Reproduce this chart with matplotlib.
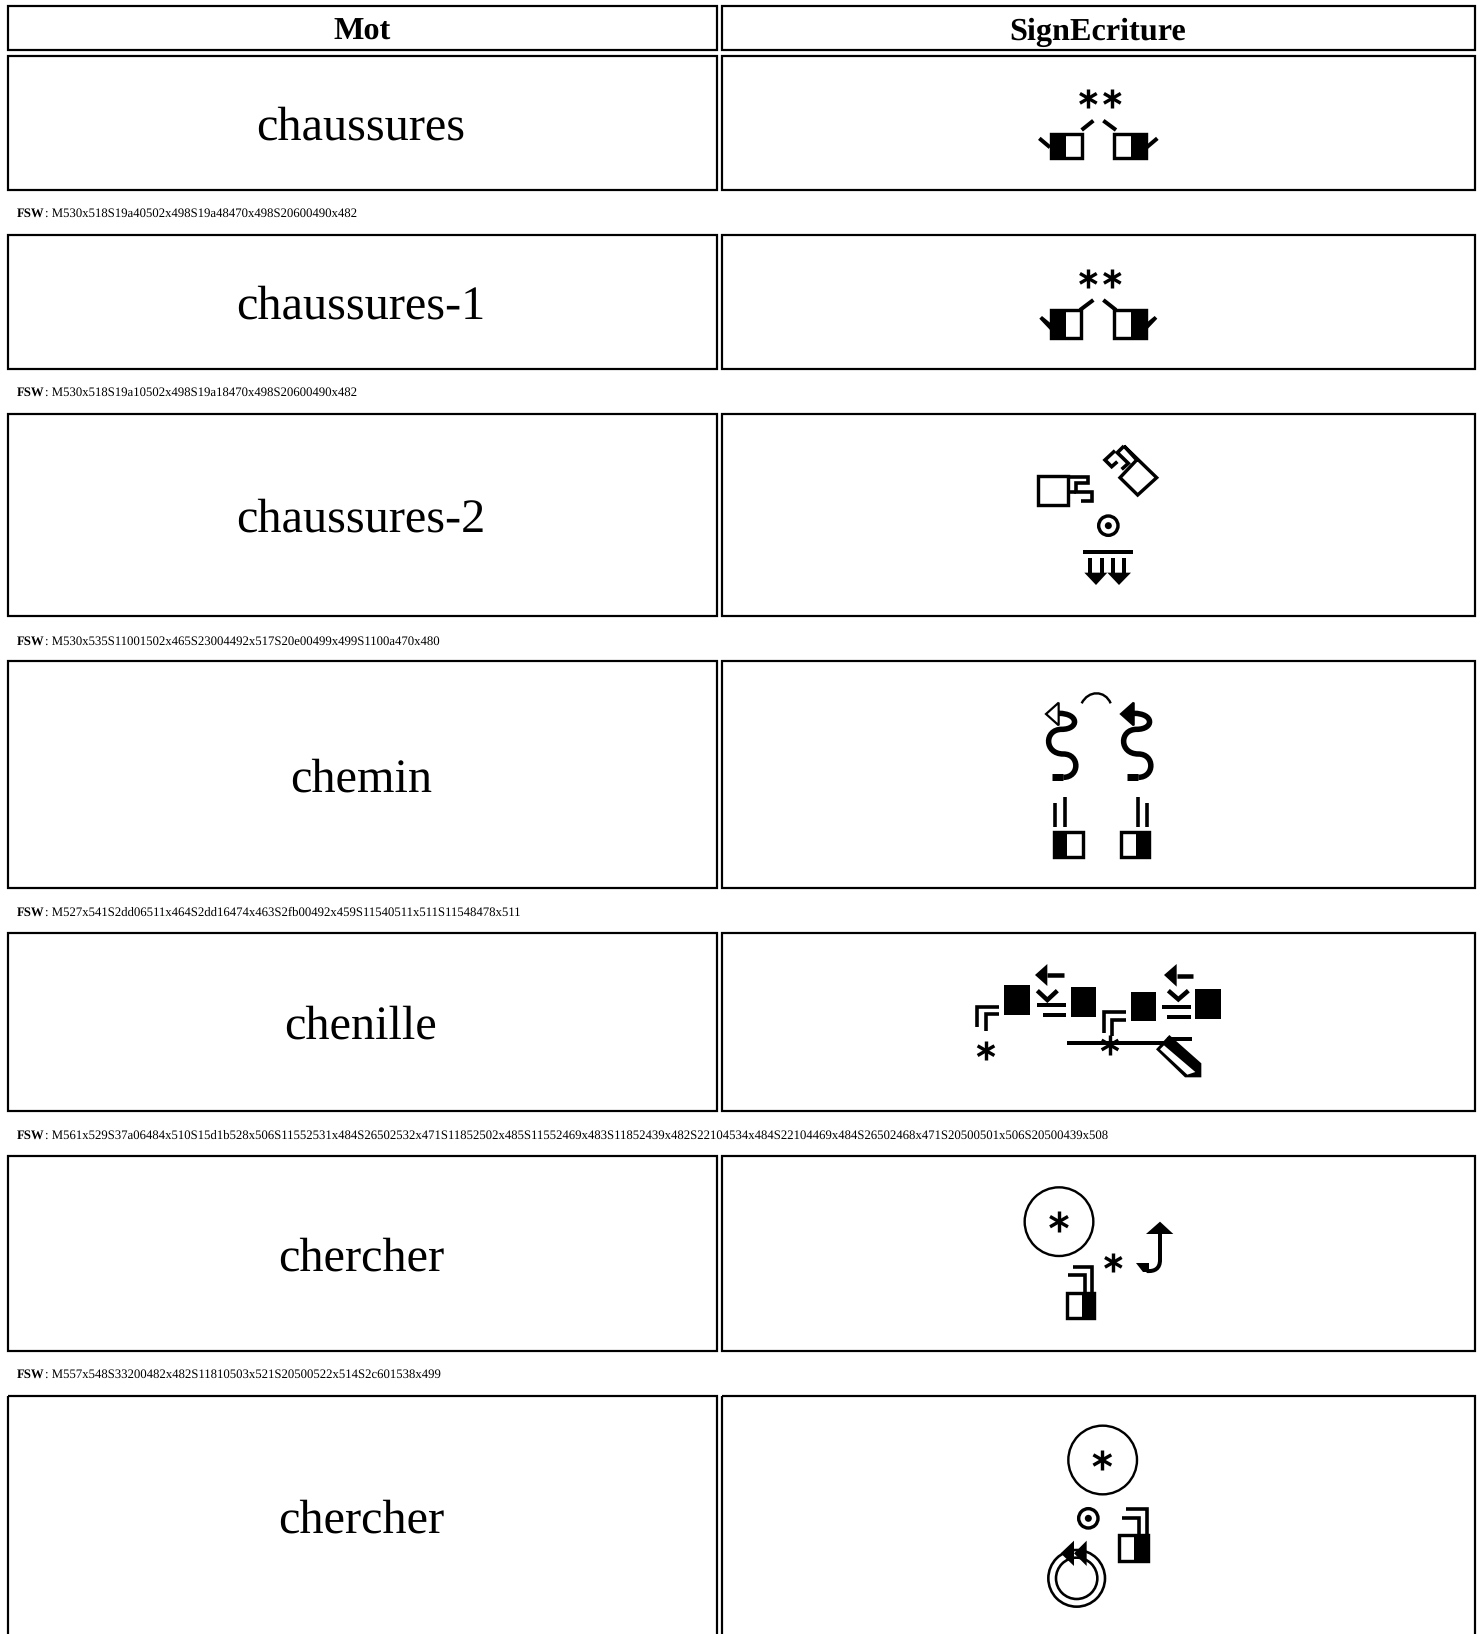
import numpy as np
import matplotlib
matplotlib.use('Agg')
import matplotlib.pyplot as plt
from matplotlib.patches import Circle, Polygon, Rectangle, PathPatch
from matplotlib.path import Path

plt.rcParams['text.hinting'] = 'no_hinting'

# Table content
headers = ['Mot', 'SignEcriture']
words = ['chaussures', 'chaussures-1', 'chaussures-2', 'chemin', 'chenille', 'chercher', 'chercher']
fsw_codes = [
    'M530x518S19a40502x498S19a48470x498S20600490x482',
    'M530x518S19a10502x498S19a18470x498S20600490x482',
    'M530x535S11001502x465S23004492x517S20e00499x499S1100a470x480',
    'M527x541S2dd06511x464S2dd16474x463S2fb00492x459S11540511x511S11548478x511',
    'M561x529S37a06484x510S15d1b528x506S11552531x484S26502532x471S11852502x485S11552469x483S11852439x482S22104534x484S22104469x484S26502468x471S20500501x506S20500439x508',
    'M557x548S33200482x482S11810503x521S20500522x514S2c601538x499',
    '',
]

# Layout in image pixels
W, H = 1483, 1634
col_edges = [(7.5, 717), (721.5, 1475)]
header_edge = (6, 50)
row_edges = [(55.5, 190), (235, 369), (414, 616), (661, 888), (933, 1111), (1156, 1351), (1396, 1640)]
fsw_y = [212.5, 391.5, 640, 911, 1134, 1373]
SERIF = 'Liberation Serif'

fig = plt.figure(figsize=(W / 100, H / 100), dpi=100)
ax = fig.add_axes([0, 0, 1, 1])
ax.set_xlim(0, W)
ax.set_ylim(H, 0)
ax.axis('off')


def px(v):
    return v * 0.72


def pts(o, coords):
    return [(o[0] + x / 3, o[1] + y / 3) for x, y in coords]


def line(o, coords, lw=3.6):
    arr = np.array(pts(o, coords))
    ax.plot(arr[:, 0], arr[:, 1], color='k', lw=px(lw), solid_capstyle='butt', solid_joinstyle='miter')


def poly(o, coords, fc='k', lw=0):
    ax.add_patch(Polygon(pts(o, coords), closed=True, fc=fc, ec='k', lw=px(lw), joinstyle='miter'))


def box(o, x0, y0, x1, y1, fx0=None, fx1=None, lw=3.4):
    a = pts(o, [(x0, y0), (x1, y1)])
    ax.add_patch(Rectangle(a[0], a[1][0] - a[0][0], a[1][1] - a[0][1], fc='w', ec='k', lw=px(lw)))
    if fx0 is not None:
        b = pts(o, [(fx0, y0), (fx1, y1)])
        ax.add_patch(Rectangle(b[0], b[1][0] - b[0][0], b[1][1] - b[0][1], fc='k', ec='none'))


def star(o, x, y, r=29, lw=3.4):
    for ang in [90, 30, 150]:
        dx = r * np.cos(np.radians(ang))
        dy = r * np.sin(np.radians(ang))
        line(o, [(x - dx, y - dy), (x + dx, y + dy)], lw)


def ring(o, x, y, r, lw=2.4):
    c = pts(o, [(x, y)])[0]
    ax.add_patch(Circle(c, r / 3, fc='none', ec='k', lw=px(lw)))


def dot_ring(o, x, y):
    ring(o, x, y, 29, 3.4)
    c = pts(o, [(x, y)])[0]
    ax.add_patch(Circle(c, 3.5, fc='k', ec='none'))


def curve(o, start, segs, lw=3.5):
    verts = pts(o, [start])
    codes = [Path.MOVETO]
    for s in segs:
        verts += pts(o, s)
        codes += [Path.CURVE4] * 3
    ax.add_patch(PathPatch(Path(verts, codes), fc='none', ec='k', lw=px(lw), capstyle='butt'))


def sign_shoes(o, joined):
    star(o, 325, 85)
    star(o, 397, 85)
    if joined:
        box(o, 213, 180, 303, 265, 213, 258)
        box(o, 403, 180, 497, 265, 452, 497)
        line(o, [(300, 180), (340, 150)], 4)
        line(o, [(408, 180), (370, 150)], 4)
        poly(o, [(178, 206), (186, 198), (215, 222), (215, 245)])
        poly(o, [(532, 206), (524, 198), (495, 222), (495, 245)])
    else:
        box(o, 213, 192, 305, 265, 213, 258)
        box(o, 402, 192, 497, 265, 452, 497)
        line(o, [(305, 180), (340, 152)], 4)
        line(o, [(370, 152), (408, 180)], 4)
        line(o, [(178, 205), (210, 232)], 4)
        line(o, [(500, 232), (532, 205)], 4)


def sign_shoes2(o):
    box(o, 115, 137, 205, 225)
    line(o, [(205, 140), (265, 140), (265, 160), (228, 160), (228, 187), (275, 187), (275, 212), (243, 212)])
    line(o, [(205, 187), (228, 187)])
    poly(o, [(372, 48), (470, 143), (413, 195), (360, 143), (410, 90)], fc='w', lw=3.4)
    line(o, [(372, 48), (352, 68), (385, 100), (365, 118)])
    line(o, [(345, 62), (315, 90), (335, 110), (352, 95)])
    dot_ring(o, 325, 287)
    line(o, [(248, 365), (398, 365)], 4)
    for x in [270, 306, 340, 372]:
        line(o, [(x, 385), (x, 430)], 4)
    poly(o, [(253, 428), (322, 428), (288, 465)])
    poly(o, [(322, 428), (393, 428), (357, 465)])


def sign_path(o):
    curve(o, (215, 70), [[(235, 30), (285, 30), (302, 70)]], 2.4)
    for dx, fc in [(0, 'w'), (225, 'k')]:
        line(o, [(125 + dx, 292), (160 + dx, 292)], 7)
        curve(o, (160 + dx, 292), [[(210 + dx, 292), (210 + dx, 222), (160 + dx, 222)],
                                   [(102 + dx, 222), (102 + dx, 148), (155 + dx, 148)],
                                   [(208 + dx, 148), (208 + dx, 100), (146 + dx, 100)]], 5.5)
        poly(o, [(108 + dx, 102), (146 + dx, 68), (146 + dx, 136)], fc=fc, lw=2.2)
    line(o, [(135, 368), (135, 440)])
    line(o, [(165, 350), (165, 440)])
    box(o, 132, 455, 218, 530, 132, 172)
    line(o, [(383, 350), (383, 440)])
    line(o, [(412, 368), (412, 440)])
    box(o, 332, 455, 418, 530, 378, 418)


def sign_caterpillar(o):
    for b in [(133, 105, 210, 195), (332, 112, 408, 200), (513, 125, 588, 213), (705, 118, 782, 207)]:
        box(o, *b, b[0], b[2], lw=0)
    line(o, [(52, 232), (52, 170), (118, 170)])
    line(o, [(77, 242), (77, 193), (118, 193)])
    line(o, [(433, 248), (433, 187), (498, 187)])
    line(o, [(457, 258), (457, 210), (498, 210)])
    star(o, 78, 302)
    line(o, [(320, 280), (612, 280)], 4)
    line(o, [(620, 268), (695, 268)], 4)
    star(o, 450, 285)
    poly(o, [(628, 255), (724, 340), (724, 382), (675, 382), (588, 298)])
    poly(o, [(600, 298), (612, 286), (706, 366), (682, 374)], fc='w')
    poly(o, [(225, 75), (262, 42), (262, 108)])
    line(o, [(262, 75), (312, 75)], 4.5)
    line(o, [(232, 122), (262, 150), (292, 122)], 4.5)
    line(o, [(230, 165), (318, 165)], 4)
    line(o, [(248, 195), (318, 195)], 4)
    poly(o, [(612, 75), (650, 42), (650, 110)])
    line(o, [(650, 77), (698, 77)], 4.5)
    line(o, [(625, 122), (655, 148), (685, 122)], 4.5)
    line(o, [(605, 172), (692, 172)], 4)
    line(o, [(620, 202), (692, 202)], 4)


def hand(o, x0, x1, y0, y1, fx, tx0, tx1, ty0, ty1, inner):
    box(o, x0, y0, x1, y1, fx, x1)
    line(o, [(tx0, ty0), (inner, ty0), (inner, y0)])
    line(o, [(tx1, ty1), (x1 - 5, ty1), (x1 - 5, y0)])


def sign_search1(o):
    ring(o, 177, 155, 103)
    star(o, 177, 155, 31)
    star(o, 340, 277)
    hand(o, 200, 282, 370, 445, 245, 205, 218, 315, 292, 255)
    poly(o, [(438, 192), (480, 155), (520, 192)])
    curve(o, (480, 192), [[(480, 240), (480, 250), (480, 270)], [(480, 295), (465, 305), (440, 303)]], 4)
    poly(o, [(408, 280), (447, 280), (447, 306), (428, 306)])


def sign_search2(o):
    ring(o, 218, 150, 103)
    star(o, 217, 150, 31)
    dot_ring(o, 175, 325)
    hand(o, 268, 355, 375, 452, 312, 275, 287, 325, 298, 328)
    ring(o, 140, 505, 85, 2.6)
    ring(o, 140, 505, 62, 2.6)
    poly(o, [(92, 430), (132, 392), (132, 468)])
    poly(o, [(132, 430), (170, 392), (170, 468)])


def cell(x, y):
    ax.add_patch(Rectangle((x[0], y[0]), x[1] - x[0], y[1] - y[0], fc='none', ec='k', lw=px(2.2)))


# Header row
for col, head in zip(col_edges, headers):
    cell(col, header_edge)
    ax.text(sum(col) / 2 - 0.5, sum(header_edge) / 2 + 1, head, family=SERIF, fontweight='bold',
            fontsize=px(32.3), ha='center', va='center_baseline')

# Rows: word on the left, sign cell on the right, code line below
for i, word in enumerate(words):
    for col in col_edges:
        cell(col, row_edges[i])
    mid = sum(row_edges[i]) / 2 if i < 6 else 1515.5
    ax.text(sum(col_edges[0]) / 2 - 1.5, mid, word, family=SERIF, fontsize=px(48.3),
            ha='center', va='center_baseline')
    if fsw_codes[i]:
        t = ax.text(17, fsw_y[i], 'FSW', family=SERIF, fontweight='bold', fontsize=px(12.7),
                    ha='left', va='center_baseline')
        ax.annotate(': ' + fsw_codes[i], xy=(1, 0), xycoords=t, family=SERIF, fontsize=px(12.7),
                    ha='left', va='bottom')

sign_shoes((980, 70), False)
sign_shoes((980, 250), True)
sign_shoes2((1000, 430))
sign_path((1010, 680))
sign_caterpillar((960, 950))
sign_search1((1000, 1170))
sign_search2((1030, 1410))

fig.savefig('out.png', dpi=100)
